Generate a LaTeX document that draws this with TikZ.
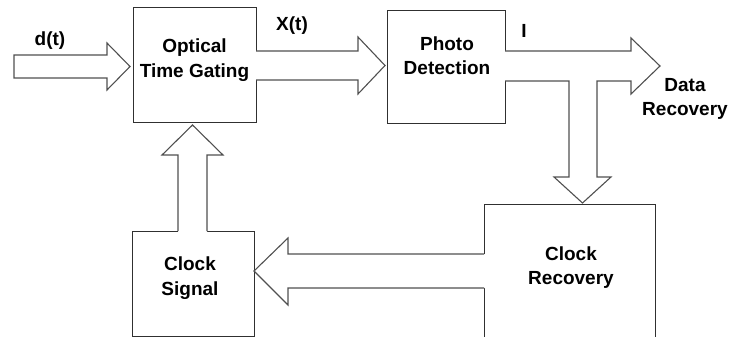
\documentclass[tikz,border=0pt]{standalone}
\usepackage{fontspec}
\setmainfont{Liberation Sans}
\definecolor{boxc}{HTML}{303030}
\definecolor{arrc}{HTML}{505050}
\begin{document}
\begin{tikzpicture}[x=1pt,y=-1pt,
  box/.style={draw=boxc, line width=1.2pt, fill=white, inner sep=0pt, anchor=north west},
  arr/.style={draw=arrc, line width=1.1pt, line join=miter},
  lbl/.style={font=\fontsize{19}{24.5}\selectfont\bfseries, align=center, inner sep=0pt, text=black}]
\useasboundingbox (0,0) rectangle (732,337);
\clip (0,0) rectangle (732,337);
% boxes
\node[box, minimum width=123pt, minimum height=115pt] (otg) at (133,7) {};
\node[box, minimum width=118pt, minimum height=113pt] (pd) at (387,10) {};
\node[box, minimum width=122pt, minimum height=105pt] (cs) at (132,231) {};
\node[box, minimum width=171pt, minimum height=160pt] (cr) at (484,204) {};
% d(t) arrow
\draw[arr, fill=white] (14,55)--(107,55)--(107,43)--(130,66.5)--(107,90)--(107,78)--(14,78)--cycle;
% X(t) arrow
\fill[white] (254.5,51)--(358,51)--(358,37)--(385,65.5)--(358,94)--(358,80)--(254.5,80)--cycle;
\draw[arr] (256,51)--(358,51)--(358,37)--(385,65.5)--(358,94)--(358,80)--(256,80);
% I arrow with branch down to clock recovery
\fill[white] (503.5,51)--(631,51)--(631,38)--(660,66)--(631,94)--(631,81)--(597,81)--(597,177)--(611,177)--(582.5,203)--(554,177)--(569,177)--(569,81)--(503.5,81)--cycle;
\draw[arr] (505,51)--(631,51)--(631,38)--(660,66)--(631,94)--(631,81)--(597,81)--(597,177)--(611,177)--(582.5,203)--(554,177)--(569,177)--(569,81)--(505,81);
% up arrow: clock signal -> optical time gating
\fill[white] (178,232.5)--(178,155)--(162,155)--(192.5,125)--(223,155)--(207,155)--(207,232.5)--cycle;
\draw[arr] (178,231)--(178,155)--(162,155)--(192.5,125)--(223,155)--(207,155)--(207,231);
% left arrow: clock recovery -> clock signal
\fill[white] (485.5,254)--(288,254)--(288,238)--(254,271)--(288,305)--(288,288)--(485.5,288)--cycle;
\draw[arr] (484,254)--(288,254)--(288,238)--(254,271)--(288,305)--(288,288)--(484,288);
% texts
\node[lbl] (totg) at (194.5,60) {Optical\\Time Gating};
\node[lbl] (tpd) at (447,55.5) {Photo\\Detection};
\node[lbl] (tcs) at (190,278) {Clock\\Signal};
\node[lbl] (tcr) at (571,267.5) {Clock\\Recovery};
\node[lbl] (tdr) at (685,99) {Data\\Recovery};
\node[lbl] (td) at (50,41) {d(t)};
\node[lbl] (tx) at (292,26) {X(t)};
\node[lbl] (ti) at (524,31) {I};
\end{tikzpicture}
\end{document}
